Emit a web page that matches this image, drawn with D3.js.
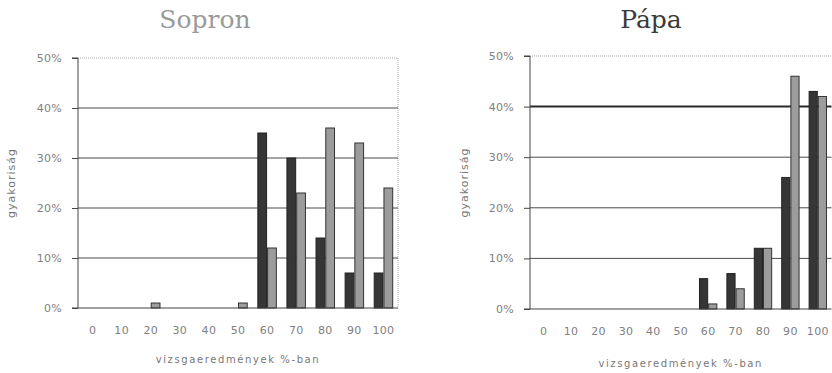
<!DOCTYPE html>
<html><head><meta charset="utf-8">
<script src="https://cdn.jsdelivr.net/npm/d3@7"></script>
<style>
html,body{margin:0;padding:0;background:#fff;}
svg{display:block;}
</style></head>
<body>
<script>
// ---- data ----
const categories = ["0","10","20","30","40","50","60","70","80","90","100"];
const sopronDark = [0,0,0,0,0,0,35,30,14,7,7];
const sopronGrey = [0,0,1,0,0,1,12,23,36,33,24];
const papaDark   = [0,0,0,0,0,0,6,7,12,26,43];
const papaGrey   = [0,0,0,0,0,0,1,4,12,46,42];
const yTickValues = [0,10,20,30,40,50];
const titles = ["Sopron","Pápa"];
const yTitle = "gyakoriság";
const xTitle = "vizsgaeredmények %-ban";

const W = 832, H = 373;
const svg = d3.select("body").append("svg").attr("width", W).attr("height", H);

function drawChart(cfg){
  const g = svg.append("g");
  const x = d3.scaleBand().domain(categories).range([cfg.x0, cfg.x1]).paddingInner(0.33).paddingOuter(0.165);
  const xs = d3.scaleBand().domain(["d","g"]).range([0, x.bandwidth()]);
  const y = d3.scaleLinear().domain([0,50]).range([cfg.y0, cfg.y1]);

  // title
  g.append("text").attr("x", cfg.titleX).attr("y", 28).attr("text-anchor","middle")
    .attr("font-family","DejaVu Serif").attr("font-size",25).attr("fill",cfg.titleColor)
    .text(cfg.title);

  // top dotted line & right border
  g.append("line").attr("x1",cfg.x0).attr("x2",cfg.x1).attr("y1",y(50)).attr("y2",y(50))
    .attr("stroke","#aaa").attr("stroke-width",1).attr("stroke-dasharray","1,1");
  if (cfg.rightBorder) {
    g.append("line").attr("x1",cfg.x1).attr("x2",cfg.x1).attr("y1",y(50)).attr("y2",y(0))
      .attr("stroke","#aaa").attr("stroke-width",1).attr("stroke-dasharray","1,1");
  }
  // gridlines
  g.selectAll(".grid").data(yTickValues.filter(v => v>0 && v<50)).enter().append("line")
    .attr("x1",cfg.x0).attr("x2",cfg.x1).attr("y1",d=>y(d)).attr("y2",d=>y(d))
    .attr("stroke", d => (cfg.thick40 && d===40) ? "#2a2a2a" : "#4a4a4a")
    .attr("stroke-width", d => (cfg.thick40 && d===40) ? 2 : 1);

  // bars
  const rows = categories.map((c,i)=>({c, d:cfg.dark[i], g:cfg.grey[i]}));
  const grp = g.selectAll(".grp").data(rows).enter().append("g")
    .attr("transform", d=>`translate(${x(d.c)},0)`);
  grp.filter(d=>d.d>0).append("rect")
    .attr("x", xs("d")+0.5).attr("width", xs.bandwidth()-1)
    .attr("y", d=>y(d.d)).attr("height", d=>y(0)-y(d.d))
    .attr("fill","#363636").attr("stroke","#222").attr("stroke-width",1);
  grp.filter(d=>d.g>0).append("rect")
    .attr("x", xs("g")+0.5).attr("width", xs.bandwidth()-1)
    .attr("y", d=>y(d.g)).attr("height", d=>y(0)-y(d.g))
    .attr("fill","#9c9c9c").attr("stroke","#333").attr("stroke-width",1);

  // y axis
  const ya = d3.axisLeft(y).tickValues(yTickValues).tickSize(6).tickPadding(10)
    .tickFormat(d => d + "%");
  const yg = g.append("g").attr("transform",`translate(${cfg.x0},0)`).call(ya);
  yg.select(".domain").attr("stroke","#444").attr("d", `M-6,${y(50)}H0V${y(0)}`);
  yg.selectAll(".tick line").attr("stroke","#444");
  yg.selectAll(".tick text").attr("font-family","DejaVu Sans").attr("font-size",11)
    .attr("fill","#808080").attr("letter-spacing",0.3);

  // baseline
  g.append("line").attr("x1",cfg.x0-6).attr("x2",cfg.x1).attr("y1",y(0)).attr("y2",y(0))
    .attr("stroke","#444").attr("stroke-width",1.2);

  // x axis labels
  const xa = d3.axisBottom(x).tickSize(0).tickPadding(18);
  const xg = g.append("g").attr("transform",`translate(0,${y(0)})`).call(xa);
  xg.select(".domain").remove();
  xg.selectAll(".tick text").attr("font-family","DejaVu Sans").attr("font-size",11)
    .attr("fill","#808080").attr("letter-spacing",0.3);

  // axis titles
  g.append("text").attr("x",(cfg.x0+cfg.x1)/2).attr("y",cfg.xTitleY).attr("text-anchor","middle")
    .attr("font-family","DejaVu Sans").attr("font-size",10).attr("fill","#777")
    .attr("letter-spacing",1.6).text(xTitle);
  g.append("text").attr("transform",`translate(${cfg.yTitleX},${(cfg.y0+cfg.y1)/2}) rotate(-90)`)
    .attr("text-anchor","middle").attr("font-family","DejaVu Sans").attr("font-size",11)
    .attr("fill","#777").attr("letter-spacing",1).text(yTitle);
}

drawChart({title:titles[0], titleX:205, titleColor:"#9a9a9a", x0:78, x1:398, y0:308, y1:58,
  dark:sopronDark, grey:sopronGrey, rightBorder:true, thick40:false, xTitleY:363, yTitleX:15});
drawChart({title:titles[1], titleX:651, titleColor:"#3a3a3a", x0:530, x1:831.5, y0:309, y1:56,
  dark:papaDark, grey:papaGrey, rightBorder:false, thick40:true, xTitleY:367, yTitleX:468});
</script>
</body></html>
